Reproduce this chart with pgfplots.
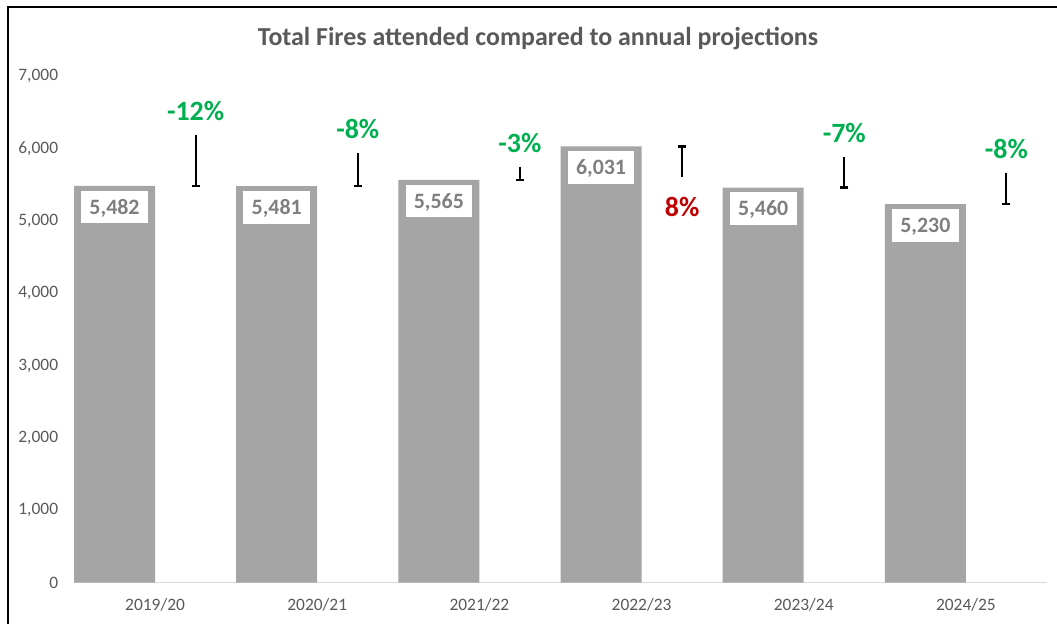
\documentclass[border=0pt]{standalone}
\usepackage{pgfplots}
\pgfplotsset{compat=1.18}
\usepackage{fontspec}
\setmainfont{Carlito}
\definecolor{bargray}{HTML}{A5A5A5}
\definecolor{txtgray}{HTML}{595959}
\definecolor{lblgray}{HTML}{7F7F7F}
\definecolor{pgreen}{HTML}{00B050}
\definecolor{pred}{HTML}{C00000}
\definecolor{basegray}{HTML}{D9D9D9}
\begin{document}
\begin{tikzpicture}
\useasboundingbox (-74bp,-41.5bp) rectangle (983bp,582.5bp);
\begin{axis}[
  at={(0,0)}, anchor=south west,
  scale only axis, width=973bp, height=506.3bp,
  xmin=-0.5, xmax=5.5, ymin=0, ymax=7000,
  clip=false,
  axis lines*=left,
  x axis line style={draw=basegray, line width=1.5bp},
  y axis line style={draw=none},
  major tick length=0pt,
  tick style={draw=none},
  xtick={0,1,2,3,4,5},
  xticklabels={2019/20,2020/21,2021/22,2022/23,2023/24,2024/25},
  ytick={0,1000,...,7000},
  scaled y ticks=false,
  /pgf/number format/assume math mode=true,
  /pgf/number format/1000 sep={,},
  ticklabel style={font=\fontsize{17.5}{17.5}\selectfont, text=txtgray},
  yticklabel style={inner sep=0pt, anchor=east, xshift=-15.7bp},
  xticklabel style={inner sep=0pt, anchor=base, yshift=-27.5bp},
]
% actual fires (left half of each category)
\addplot[ybar, fill=bargray, draw=none, bar width=81bp, bar shift=0pt,
  nodes near coords,
  nodes near coords style={anchor=north, yshift=-4.7bp, fill=white, inner sep=0pt,
    minimum width=66.7bp, minimum height=32.6bp, text height=14bp, text depth=0pt,
    font=\bfseries\fontsize{22}{22}\selectfont, text=lblgray}]
  coordinates {(-0.25,5482) (0.75,5481) (1.75,5565) (2.75,6031) (3.75,5460) (4.75,5230)};
% projections above actual: error bar down to actual
\addplot[draw=none, mark=none,
  error bars/.cd, y dir=minus, y explicit,
  error bar style={draw=black, line width=2bp},
  error mark options={rotate=90, draw=black, line width=2.5bp, mark size=4bp}]
  coordinates {(0.25,6190) -= (0,708) (1.25,5935) -= (0,454) (2.25,5750) -= (0,185)
               (4.25,5885) -= (0,425) (5.25,5655) -= (0,425)};
% projection below actual: error bar up to actual
\addplot[draw=none, mark=none,
  error bars/.cd, y dir=plus, y explicit,
  error bar style={draw=black, line width=2bp},
  error mark options={rotate=90, draw=black, line width=2.5bp, mark size=4bp}]
  coordinates {(3.25,5600) += (0,431)};
% percentage labels
\addplot[draw=none, mark=none, point meta=explicit symbolic,
  nodes near coords,
  nodes near coords style={anchor=center, yshift=24bp,
    font=\bfseries\fontsize{28}{28}\selectfont, text=pgreen}]
  coordinates {(0.25,6190) [-12\%] (1.25,5935) [-8\%] (2.25,5750) [-3\%]
               (4.25,5885) [-7\%] (5.25,5655) [-8\%]};
\addplot[draw=none, mark=none, point meta=explicit symbolic,
  nodes near coords,
  nodes near coords style={anchor=center, yshift=-30bp,
    font=\bfseries\fontsize{28}{28}\selectfont, text=pred}]
  coordinates {(3.25,5600) [8\%]};
\end{axis}
% title
\node[anchor=base, text=txtgray, font=\bfseries\fontsize{26}{26}\selectfont]
  at (464bp,536.5bp) {Total Fires attended compared to annual projections};
% chart frame
\draw[black, line width=2bp] (-66bp,-41.5bp) -- (-66bp,575.5bp) -- (983bp,575.5bp);
\end{tikzpicture}
\end{document}
